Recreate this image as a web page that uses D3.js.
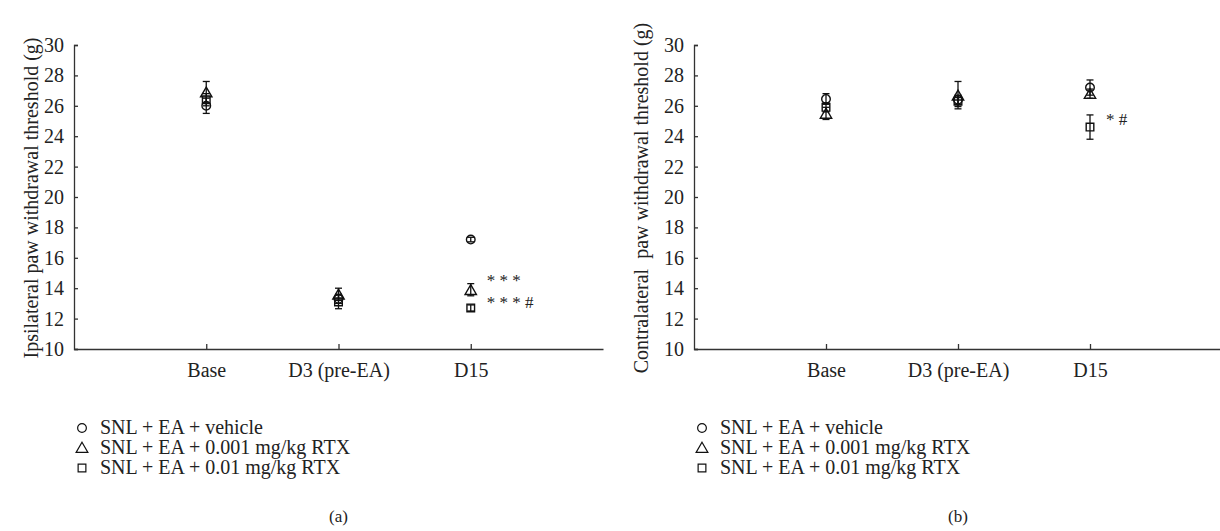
<!DOCTYPE html>
<html>
<head>
<meta charset="utf-8">
<script src="https://cdn.jsdelivr.net/npm/d3@7"></script>
<style>
  body { margin: 0; background: #fff; }
  text { font-family: "Liberation Serif", "Times New Roman", serif; fill: #222; }
</style>
</head>
<body>
<script>
const WIDTH = 1220, HEIGHT = 531;

// categories and tick values
const timepoints = ["Base", "D3 (pre-EA)", "D15"];
const yTicks = [10, 12, 14, 16, 18, 20, 22, 24, 26, 28, 30];
const groups = ["SNL + EA + vehicle", "SNL + EA + 0.001 mg/kg RTX", "SNL + EA + 0.01 mg/kg RTX"];

// (a) ipsilateral: mean and SEM per group, per timepoint
const ipsiVehicle = [26.0, 13.3, 17.2];
const ipsiVehicleErr = [0.5, 0.3, 0.15];
const ipsiLow = [26.9, 13.6, 13.9];
const ipsiLowErr = [0.7, 0.4, 0.4];
const ipsiHigh = [26.4, 13.1, 12.7];
const ipsiHighErr = [0.4, 0.45, 0.2];

// (b) contralateral
const contraVehicle = [26.45, 26.4, 27.2];
const contraVehicleErr = [0.35, 0.3, 0.5];
const contraLow = [25.5, 26.7, 26.8];
const contraLowErr = [0.4, 0.9, 0.3];
const contraHigh = [25.9, 26.3, 24.6];
const contraHighErr = [0.3, 0.35, 0.8];

// significance marks at D15 (beside triangle, beside square)
const ipsiMarks = ["* * *", "* * * #"];
const contraMarks = ["", "* #"];

const symbolTypes = [d3.symbolCircle, d3.symbolTriangle, d3.symbolSquare];

const svg = d3.select("body").append("svg")
    .attr("width", WIDTH).attr("height", HEIGHT);

// Draws one panel.
function drawPanel(opts) {
    const x = d3.scalePoint().domain(timepoints).range([opts.x0, opts.x1]).padding(1);
    const y = d3.scaleLinear().domain([10, 30]).range([349, 45]);
    const g = svg.append("g");

    const yAxis = g.append("g").attr("transform", `translate(${opts.x0},0)`)
        .call(d3.axisLeft(y).tickValues(yTicks).tickSizeInner(-4).tickSizeOuter(-4).tickPadding(10));
    const xAxis = g.append("g").attr("transform", "translate(0,349)")
        .call(d3.axisBottom(x).tickSizeInner(-5).tickSizeOuter(0).tickPadding(14));
    [yAxis, xAxis].forEach(a => {
        a.select(".domain").attr("stroke", "#333").attr("stroke-width", 1.3);
        a.selectAll(".tick line").attr("stroke", "#333").attr("stroke-width", 1.3);
        a.selectAll("text").style("font-size", "20px").attr("fill", "#222")
            .style("font-family", "Liberation Serif, serif");
    });
    xAxis.selectAll("text").attr("dy", "0.72em");

    g.append("text")
        .attr("transform", `translate(${opts.titleX},198) rotate(-90)`)
        .attr("text-anchor", "middle")
        .style("font-size", "20px")
        .style("white-space", "pre")
        .text(opts.title);

    opts.series.forEach((s, i) => {
        const sg = g.append("g");
        timepoints.forEach((t, j) => {
            const cx = x(t), cy = y(s.mean[j]);
            const top = y(s.mean[j] + s.err[j]), bot = y(s.mean[j] - s.err[j]);
            sg.append("line").attr("x1", cx).attr("x2", cx).attr("y1", top).attr("y2", bot)
                .attr("stroke", "#111").attr("stroke-width", 1.3);
            [top, bot].forEach(v => sg.append("line")
                .attr("x1", cx - 3.5).attr("x2", cx + 3.5).attr("y1", v).attr("y2", v)
                .attr("stroke", "#111").attr("stroke-width", 1.3));
            sg.append("path")
                .attr("d", d3.symbol().type(symbolTypes[i]).size(i === 1 ? 56 : 58)())
                .attr("transform", `translate(${cx},${cy + (i === 1 ? 1.5 : 0)})`)
                .attr("fill", "none").attr("stroke", "#111").attr("stroke-width", 1.4);
        });
    });

    // significance marks
    opts.marks.forEach((m, i) => {
        if (!m) return;
        const s = opts.series[i + 1];
        const last = timepoints.length - 1;
        g.append("text")
            .attr("x", x(timepoints[last]) + 16)
            .attr("y", y(s.mean[last]) + opts.markDy[i])
            .style("font-size", "17px")
            .style("white-space", "pre")
            .text(m);
    });

    // legend
    const lg = g.append("g");
    groups.forEach((name, i) => {
        const ly = 428 + i * 20;
        lg.append("path")
            .attr("d", d3.symbol().type(symbolTypes[i]).size(60)())
            .attr("transform", `translate(${opts.x0 + 8},${ly + (i === 1 ? 1 : 0)})`)
            .attr("fill", "none").attr("stroke", "#111").attr("stroke-width", 1.2);
        lg.append("text")
            .attr("x", opts.x0 + 26).attr("y", ly + 6)
            .style("font-size", "20px")
            .text(name);
    });

    g.append("text")
        .attr("x", (opts.x0 + opts.x1) / 2).attr("y", 522)
        .attr("text-anchor", "middle")
        .style("font-size", "17px")
        .text(opts.caption);
}

drawPanel({
    x0: 74, x1: 603, titleX: 38,
    title: "Ipsilateral paw withdrawal threshold (g)",
    series: [
        {mean: ipsiVehicle, err: ipsiVehicleErr},
        {mean: ipsiLow, err: ipsiLowErr},
        {mean: ipsiHigh, err: ipsiHighErr}
    ],
    marks: ipsiMarks,
    markDy: [-4, 0],
    caption: "(a)"
});

drawPanel({
    x0: 694, x1: 1222, titleX: 648,
    title: "Contralateral  paw withdrawal threshold (g)",
    series: [
        {mean: contraVehicle, err: contraVehicleErr},
        {mean: contraLow, err: contraLowErr},
        {mean: contraHigh, err: contraHighErr}
    ],
    marks: contraMarks,
    markDy: [0, -2],
    caption: "(b)"
});
</script>
</body>
</html>
